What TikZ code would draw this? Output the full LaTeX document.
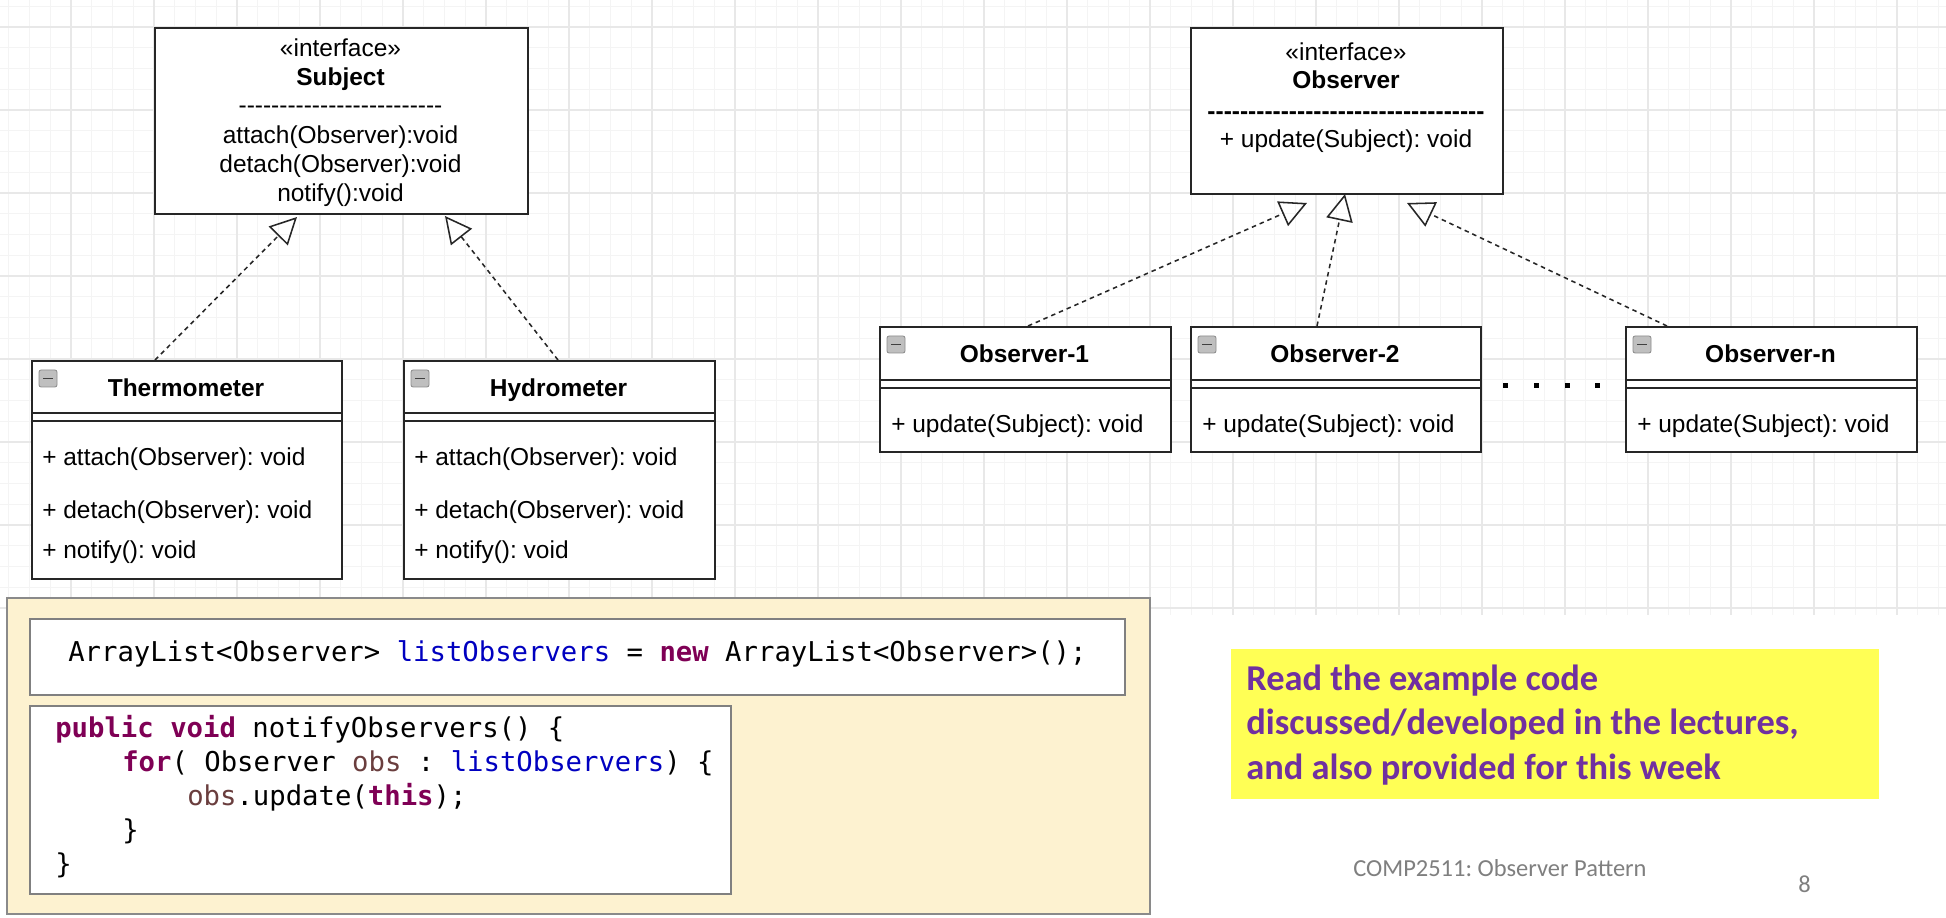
\documentclass[tikz,border=0pt]{standalone}
\usepackage{fontspec}
\setmainfont{Liberation Sans}[Ligatures=TeXOff]
\newfontfamily\codefont{DejaVu Sans Mono}
\newfontfamily\notefont{Carlito}
\usepackage{xcolor}
\usetikzlibrary{arrows.meta,calc}
\frenchspacing

\definecolor{gridmajor}{HTML}{E8E8E8}
\definecolor{gridminor}{HTML}{F4F4F4}
\definecolor{panelfill}{HTML}{FDF2D0}
\definecolor{panelline}{HTML}{8A8A8A}
\definecolor{kwcol}{HTML}{7F0055}
\definecolor{fieldcol}{HTML}{0000C0}
\definecolor{localcol}{HTML}{6A3E3E}
\definecolor{noteyellow}{HTML}{FFFF55}
\definecolor{notepurple}{HTML}{7030A0}
\definecolor{footgray}{HTML}{7F7F7F}

\newcommand{\umlsize}{\fontsize{17.4}{21}\selectfont}
\newcommand{\kw}[1]{\textcolor{kwcol}{\bfseries #1}}
\newcommand{\fld}[1]{\textcolor{fieldcol}{#1}}
\newcommand{\loc}[1]{\textcolor{localcol}{#1}}

\tikzset{
  boxsize/.style 2 args={minimum width=#1*0.025cm, minimum height=#2*0.025cm},
  umlbox/.style={draw=black!85, line width=1.3pt, fill=white, inner sep=0pt, anchor=north west},
  umlline/.style={draw=black!85, line width=1.3pt},
  umltext/.style={font=\umlsize, inner sep=0pt},
  umlname/.style={font=\umlsize\bfseries, inner sep=0pt},
  icon/.style={fill=black!25, draw=black!45, line width=0.6pt, rounded corners=1.5pt},
  realize/.style={draw=black!85, line width=1.1pt, dash pattern=on 3.2pt off 2.8pt,
    -{Triangle[open, length=19pt, width=19pt]}},
  codebox/.style={draw=black!50, line width=1.3pt, fill=white, inner sep=0pt, anchor=north west},
  codetext/.style={font=\codefont\fontsize{19.4}{24}\selectfont, inner sep=0pt, anchor=base west},
  notetext/.style={font=\notefont\bfseries\fontsize{25.9}{32}\selectfont, text=notepurple, inner sep=0pt, anchor=base west},
  foot/.style={font=\notefont\fontsize{17.4}{21}\selectfont, text=footgray, inner sep=0pt, anchor=base west}
}

\begin{document}
\begin{tikzpicture}[x={(0.025cm,0cm)}, y={(0cm,-0.025cm)}]
  \fill[white] (0,0) rectangle (1946,918);
  \useasboundingbox (0,0) rectangle (1946,918);

  % Grid
  \foreach \i in {0,...,94} \draw[gridminor, line width=0.7pt] ({-12+20.75*\i},0) -- ++(0,615);
  \foreach \j in {3,...,32} \draw[gridminor, line width=0.7pt] (0,{-56+20.75*\j}) -- ++(1946,0);
  \foreach \i in {1,...,23} \draw[gridmajor, line width=1pt] ({-12+83*\i},0) -- ++(0,615);
  \foreach \j in {0,...,7} \draw[gridmajor, line width=1pt] (0,{27+83*\j}) -- ++(1946,0);

  % Nodes
  \node[umlbox, boxsize={373}{186}] (subject) at (154,27) {};
  \node[umltext, anchor=base] (subjStereo) at (340.5,57) {«interface»};
  \node[umlname, anchor=base] (subjName) at (340.5,86) {Subject};
  \node[umltext, anchor=base] (subjSep) at (340.5,114) {-------------------------};
  \node[umltext, anchor=base] (subjAttach) at (340.5,144) {attach(Observer):void};
  \node[umltext, anchor=base] (subjDetach) at (340.5,172.5) {detach(Observer):void};
  \node[umltext, anchor=base] (subjNotify) at (340.5,201.5) {notify():void};

  \node[umlbox, boxsize={312}{166}] (observer) at (1190,27) {};
  \node[umltext, anchor=base] (obsStereo) at (1346,61) {«interface»};
  \node[umlname, anchor=base] (obsName) at (1346,89) {Observer};
  \node[umlname, anchor=base] (obsSep) at (1346,120) {----------------------------------};
  \node[umltext, anchor=base] (obsUpdate) at (1346,148) {+ update(Subject): void};

  \node[umlbox, boxsize={310}{218}] (thermo) at (31,360) {};
  \node[umlname, anchor=base] (thermoName) at (186,397) {Thermometer};
  \node[umltext, anchor=base west] (thermoAttach) at (42,465) {+ attach(Observer): void};
  \node[umltext, anchor=base west] (thermoDetach) at (42,518) {+ detach(Observer): void};
  \node[umltext, anchor=base west] (thermoNotify) at (42,558) {+ notify(): void};

  \node[umlbox, boxsize={311}{218}] (hydro) at (403,360) {};
  \node[umlname, anchor=base] (hydroName) at (558.5,397) {Hydrometer};
  \node[umltext, anchor=base west] (hydroAttach) at (414,465) {+ attach(Observer): void};
  \node[umltext, anchor=base west] (hydroDetach) at (414,518) {+ detach(Observer): void};
  \node[umltext, anchor=base west] (hydroNotify) at (414,558) {+ notify(): void};

  \node[umlbox, boxsize={291}{125}] (obsOne) at (879,326) {};
  \node[umlname, anchor=base] (obsOneName) at (1024.5,363) {Observer-1};
  \node[umltext, anchor=base west] (obsOneUpdate) at (891,433) {+ update(Subject): void};

  \node[umlbox, boxsize={290}{125}] (obsTwo) at (1190,326) {};
  \node[umlname, anchor=base] (obsTwoName) at (1335,363) {Observer-2};
  \node[umltext, anchor=base west] (obsTwoUpdate) at (1202,433) {+ update(Subject): void};

  \node[umlbox, boxsize={291}{125}] (obsN) at (1625,326) {};
  \node[umlname, anchor=base] (obsNName) at (1770.5,363) {Observer-n};
  \node[umltext, anchor=base west] (obsNUpdate) at (1637,433) {+ update(Subject): void};

  % compartment lines and collapse icons
  \foreach \b/\ya in {thermo/413, hydro/413, obsOne/380, obsTwo/380, obsN/380} {
    \draw[umlline] (\b.west |- 0,\ya) -- (\b.east |- 0,\ya);
    \draw[umlline] (\b.west |- 0,\ya+8) -- (\b.east |- 0,\ya+8);
    \draw[icon] ($(\b.north west)+(8,10)$) rectangle ++(18,17);
    \draw[black!75, line width=1.4pt] ($(\b.north west)+(12,18.5)$) -- ++(10,0);
  }

  \foreach \x in {1505,1536,1567,1597} \fill (\x-2.5,383.5) rectangle ++(5,5);

  % Edges
  \coordinate (thermoTop) at (155,360);
  \coordinate (hydroTop) at (558,360);
  \coordinate (subjInA) at (297,217);
  \coordinate (subjInB) at (445,216);
  \coordinate (obsOneTop) at (1028,326);
  \coordinate (obsTwoTop) at (1317,326);
  \coordinate (obsNTop) at (1667,326);
  \coordinate (obsInA) at (1307,203);
  \coordinate (obsInB) at (1345,194);
  \coordinate (obsInC) at (1407,203);

  \draw[realize] (thermoTop) -- (subjInA);
  \draw[realize] (hydroTop) -- (subjInB);
  \draw[realize] (obsOneTop) -- (obsInA);
  \draw[realize] (obsTwoTop) -- (obsInB);
  \draw[realize] (obsNTop) -- (obsInC);

  % Code panel
  \node[draw=panelline, fill=panelfill, line width=1.4pt, inner sep=0pt, anchor=north west, boxsize={1143}{316}] (panel) at (6,597) {};
  \node[codebox, boxsize={1095}{76}] (declBox) at (29,618) {};
  \node[codebox, boxsize={701}{188}] (methodBox) at (29,705) {};

  \node[codetext] (declLine) at (68,661) {ArrayList<Observer> \fld{listObservers} = \kw{new} ArrayList<Observer>();};
  \node[codetext] (codeA) at (55,737) {\kw{public} \kw{void} notifyObservers() \{};
  \node[codetext] (codeB) at (122,771) {\kw{for}( Observer \loc{obs} : \fld{listObservers}) \{};
  \node[codetext] (codeC) at (187,805) {\loc{obs}.update(\kw{this});};
  \node[codetext] (codeD) at (122,839) {\}};
  \node[codetext] (codeE) at (55,873) {\}};

  % Note
  \node[fill=noteyellow, inner sep=0pt, anchor=north west, boxsize={648}{150}] (noteBox) at (1231,649) {};
  \node[notetext] (noteA) at (1246,690) {Read the example code};
  \node[notetext] (noteB) at (1246,734.5) {discussed/developed in the lectures,};
  \node[notetext] (noteC) at (1246,779) {and also provided for this week};

  \node[foot] (footer) at (1353,876) {COMP2511: Observer Pattern};
  \node[foot] (pageNo) at (1798,892) {8};
\end{tikzpicture}
\end{document}
